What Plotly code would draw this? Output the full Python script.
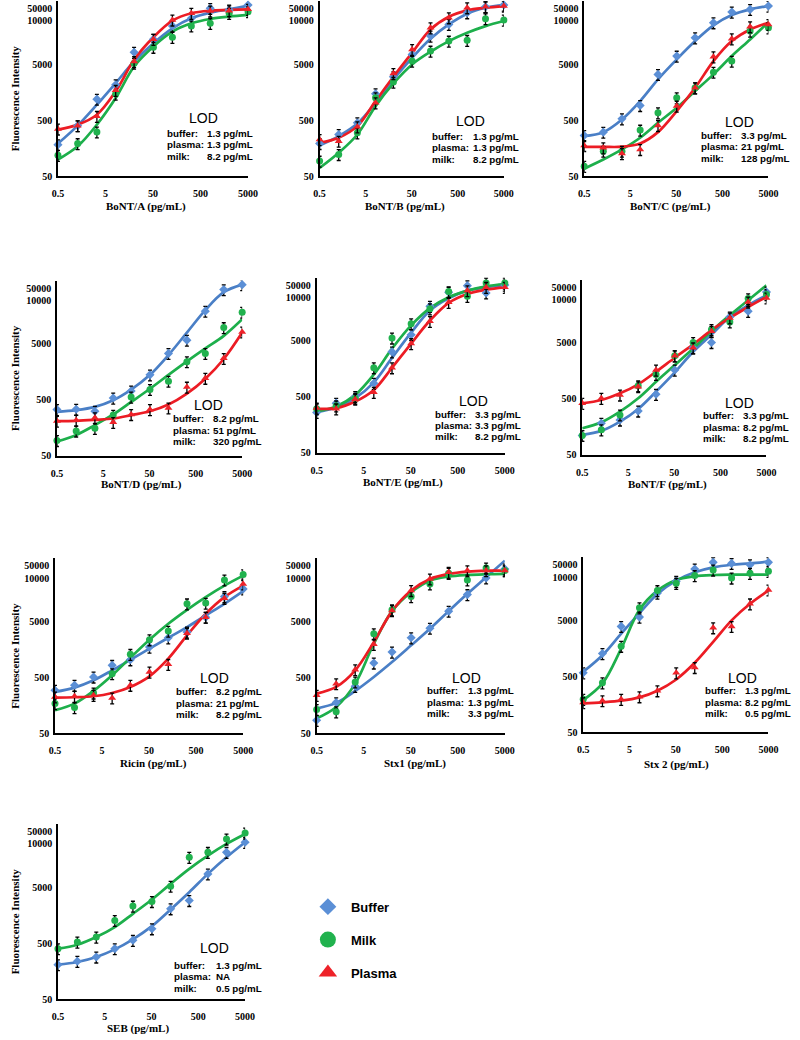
import math
import plotly.graph_objects as go

# 2.5-fold dilution series (pg/mL)
conc = [0.5, 1.3, 3.3, 8.2, 20, 51, 128, 320, 800, 2000, 5000]

x_ticks = [0.5, 5, 50, 500, 5000]
x_tick_text = ["0.5", "5", "50", "500", "5000"]
y_ticks = [50, 500, 5000, 30000, 50000]
y_tick_text = ["50", "500", "5000", "10000", "50000"]

# BoNT/A
a_buffer = [183, 400, 1190, 2150, 8200, 14000, 24300, 33200, 50000, 46800, 57400]
a_buffer_fit = [191, 400, 947, 2310, 5610, 11900, 22000, 33200, 41900, 48100, 55800]
a_milk = [118, 191, 309, 1470, 5240, 10100, 15200, 24300, 27000, 40800, 43700]
a_milk_fit = [99, 171, 417, 1245, 4570, 10400, 19200, 27000, 32300, 35600, 38100]
a_plasma = [349, 400, 587, 1710, 5610, 14000, 31000, 40800, 44900, 45500, 48100]
a_plasma_fit = [340, 417, 628, 1640, 6010, 15200, 30200, 40800, 45500, 46800, 48100]
a_lod = ["1.3 pg/mL", "1.3 pg/mL", "8.2 pg/mL"]

# BoNT/B
b_buffer = [192, 278, 450, 1490, 2990, 7510, 16000, 25800, 41800, 53500, 57300]
b_buffer_fit = [177, 260, 437, 1025, 2680, 6540, 14300, 25800, 40100, 51300, 58000]
b_milk = [93, 122, 298, 1260, 2400, 5700, 8610, 13000, 13400, 32700, 30900]
b_milk_fit = [70, 131, 278, 894, 2270, 4970, 8380, 13000, 18300, 24100, 29700]
b_plasma = [226, 211, 382, 1025, 3430, 9220, 22500, 34000, 51300, 53500, 55000]
b_plasma_fit = [197, 243, 392, 1100, 2990, 8040, 21000, 35400, 46000, 51300, 55000]
b_lod = ["1.3 pg/mL", "1.3 pg/mL", "8.2 pg/mL"]

# BoNT/C
c_buffer = [267, 306, 531, 918, 3300, 7010, 14900, 27700, 43000, 47900, 55000]
c_buffer_fit = [260, 306, 516, 1100, 2680, 6110, 13000, 24800, 37900, 47900, 55000]
c_milk = [75, 140, 140, 333, 679, 1260, 1900, 3620, 5700, 19600, 22500]
c_milk_fit = [68, 99, 150, 243, 450, 834, 1660, 3300, 7010, 13900, 28400]
c_plasma = [177, 161, 127, 150, 403, 894, 1900, 6820, 14300, 23500, 25800]
c_plasma_fit = [167, 167, 168, 192, 306, 727, 1900, 5700, 13000, 21000, 27700]
c_lod = ["3.3 pg/mL", "21 pg/mL", "128 pg/mL"]

# BoNT/D
d_buffer = [336, 340, 313, 540, 719, 1400, 3390, 5840, 19300, 46800, 57400]
d_buffer_fit = [305, 327, 374, 491, 759, 1400, 3170, 7980, 20100, 42000, 57400]
d_milk = [94, 139, 155, 267, 562, 770, 1080, 2410, 3390, 9800, 18500]
d_milk_fit = [90, 118, 177, 274, 459, 791, 1400, 2440, 4160, 6960, 13800]
d_plasma = [209, 217, 239, 198, 274, 336, 359, 847, 1220, 2760, 8200]
d_plasma_fit = [209, 211, 220, 232, 267, 313, 412, 645, 1190, 2690, 7980]
d_lod = ["8.2 pg/mL", "51 pg/mL", "320 pg/mL"]

# BoNT/E
e_buffer = [264, 386, 507, 875, 3190, 6470, 20900, 37100, 48700, 36100, 50000]
e_buffer_fit = [267, 323, 473, 910, 2490, 7030, 17500, 29000, 39700, 45500, 50000]
e_milk = [306, 346, 473, 1660, 5650, 10200, 18800, 38100, 31500, 54300, 54300]
e_milk_fit = [275, 337, 543, 1260, 3650, 9490, 19300, 30200, 39700, 47300, 52100]
e_plasma = [315, 306, 455, 605, 1660, 4490, 11200, 24600, 39700, 45500, 45500]
e_plasma_fit = [306, 315, 413, 666, 1660, 4490, 11600, 24000, 34600, 41300, 45500]
e_lod = ["3.3 pg/mL", "3.3 pg/mL", "8.2 pg/mL"]

# BoNT/F
f_buffer = [111, 183, 210, 304, 603, 1640, 4090, 5100, 14600, 18400, 40800]
f_buffer_fit = [114, 134, 196, 330, 673, 1490, 3480, 7080, 14600, 23600, 35600]
f_milk = [111, 140, 258, 861, 1370, 2950, 5100, 8690, 11900, 31000, 36600]
f_milk_fit = [149, 191, 296, 512, 1010, 2010, 3980, 8110, 15700, 29000, 53600]
f_plasma = [417, 512, 587, 826, 1640, 2950, 4090, 8110, 14000, 27000, 31900]
f_plasma_fit = [417, 478, 628, 910, 1530, 2720, 4700, 8460, 14000, 22000, 33200]
f_lod = ["3.3 pg/mL", "8.2 pg/mL", "8.2 pg/mL"]

# Ricin
g_buffer = [296, 364, 512, 826, 1040, 1750, 2570, 3250, 6010, 14000, 19200]
g_buffer_fit = [276, 330, 446, 673, 1040, 1640, 2570, 3980, 6430, 10400, 17500]
g_milk = [171, 145, 265, 587, 1300, 2370, 3380, 10400, 10700, 27800, 34600]
g_milk_fit = [130, 171, 288, 548, 1130, 2370, 4570, 8110, 13700, 22000, 33200]
g_plasma = [225, 231, 241, 216, 364, 628, 861, 3110, 6010, 13100, 23600]
g_plasma_fit = [219, 222, 231, 265, 340, 526, 1090, 2830, 6890, 13700, 22000]
g_lod = ["8.2 pg/mL", "21 pg/mL", "8.2 pg/mL"]

# Stx1
h_buffer = [86, 178, 349, 910, 1430, 2570, 3820, 7690, 15200, 30200, 43700]
h_buffer_fit = [140, 176, 288, 512, 947, 1880, 3720, 7690, 15700, 31000, 61500]
h_milk = [134, 122, 417, 3030, 8110, 14000, 23600, 36600, 27800, 45500, 40800]
h_milk_fit = [93, 149, 389, 2010, 7690, 16800, 27000, 31900, 34100, 35100, 35600]
h_plasma = [241, 389, 692, 1960, 7890, 18000, 29000, 38100, 40800, 40800, 40800]
h_plasma_fit = [258, 340, 673, 2150, 7690, 18000, 29000, 35600, 39200, 40800, 40800]
h_lod = ["1.3 pg/mL", "1.3 pg/mL", "3.3 pg/mL"]

# Stx 2
i_buffer = [583, 1290, 3940, 5780, 15500, 25200, 41800, 55000, 52700, 49900, 55000]
i_buffer_fit = [608, 1200, 2920, 6800, 15000, 25900, 36500, 44800, 49900, 52700, 56500]
i_milk = [196, 387, 1740, 8470, 17200, 23200, 31900, 40200, 28900, 35000, 38000]
i_milk_fit = [190, 377, 1580, 7800, 17200, 26700, 31000, 32700, 33200, 33200, 33200]
i_plasma = [171, 185, 196, 218, 279, 583, 726, 3730, 3940, 9980, 17700]
i_plasma_fit = [166, 173, 185, 212, 279, 443, 879, 2080, 5050, 9980, 17200]
i_lod = ["1.3 pg/mL", "8.2 pg/mL", "0.5 pg/mL"]

# SEB (no plasma)
j_buffer = [207, 238, 284, 400, 564, 910, 2070, 2910, 8690, 21100, 31900]
j_buffer_fit = [207, 231, 284, 389, 587, 1010, 2010, 4090, 8690, 17200, 31900]
j_milk = [400, 526, 646, 1280, 2310, 2790, 5240, 17200, 21100, 36600, 46800]
j_milk_fit = [400, 471, 646, 973, 1680, 3030, 5770, 10700, 18400, 29800, 44900]
j_lod = ["1.3 pg/mL", "NA", "0.5 pg/mL"]

panels = [
    ("BoNT/A (pg/mL)", a_buffer, a_buffer_fit, a_milk, a_milk_fit, a_plasma, a_plasma_fit, a_lod),
    ("BoNT/B (pg/mL)", b_buffer, b_buffer_fit, b_milk, b_milk_fit, b_plasma, b_plasma_fit, b_lod),
    ("BoNT/C (pg/mL)", c_buffer, c_buffer_fit, c_milk, c_milk_fit, c_plasma, c_plasma_fit, c_lod),
    ("BoNT/D (pg/mL)", d_buffer, d_buffer_fit, d_milk, d_milk_fit, d_plasma, d_plasma_fit, d_lod),
    ("BoNT/E (pg/mL)", e_buffer, e_buffer_fit, e_milk, e_milk_fit, e_plasma, e_plasma_fit, e_lod),
    ("BoNT/F (pg/mL)", f_buffer, f_buffer_fit, f_milk, f_milk_fit, f_plasma, f_plasma_fit, f_lod),
    ("Ricin (pg/mL)", g_buffer, g_buffer_fit, g_milk, g_milk_fit, g_plasma, g_plasma_fit, g_lod),
    ("Stx1 (pg/mL)", h_buffer, h_buffer_fit, h_milk, h_milk_fit, h_plasma, h_plasma_fit, h_lod),
    ("Stx 2 (pg/mL)", i_buffer, i_buffer_fit, i_milk, i_milk_fit, i_plasma, i_plasma_fit, i_lod),
    ("SEB (pg/mL)", j_buffer, j_buffer_fit, j_milk, j_milk_fit, None, None, j_lod),
]

# pixel geometry of each panel: plot left/right, y of the x axis, x-title centre,
# LOD block (LOD centre, label column, value column, first line y)
boxes = [
    dict(x0=53, x1=247, yb=177, tx=143, ty=208, lx=202, ly=119, cl=162, cv=203, l1=134, col=0),
    dict(x0=320, x1=508, yb=177, tx=407, ty=208, lx=474, ly=122, cl=433, cv=474, l1=137, col=1),
    dict(x0=590, x1=778, yb=177, tx=678, ty=208, lx=748, ly=123, cl=707, cv=748, l1=136, col=2),
    dict(x0=52, x1=241, yb=458, tx=138, ty=487, lx=207, ly=407, cl=168, cv=209, l1=421, col=0),
    dict(x0=317, x1=509, yb=455, tx=405, ty=485, lx=477, ly=403, cl=436, cv=477, l1=416, col=1),
    dict(x0=588, x1=776, yb=457, tx=675, ty=487, lx=748, ly=405, cl=709, cv=750, l1=418, col=2),
    dict(x0=50, x1=242, yb=737, tx=150, ty=767, lx=213, ly=681, cl=171, cv=212, l1=695, col=0),
    dict(x0=317, x1=509, yb=737, tx=417, ty=767, lx=470, ly=681, cl=428, cv=469, l1=694, col=1),
    dict(x0=589, x1=778, yb=736, tx=684, ty=768, lx=752, ly=681, cl=711, cv=752, l1=694, col=2),
    dict(x0=53, x1=244, yb=1004, tx=135, ty=1033, lx=213, ly=953, cl=169, cv=212, l1=970, col=0),
]

W, H = 800, 1040
PPD = 56.2  # pixels per decade on the y axis
y_lo, y_hi = math.log10(50), math.log10(68000)
plot_h = PPD * (y_hi - y_lo)

BLUE_L, BLUE_M = "#4A7FC6", "#5B8FD6"
GREEN_L, GREEN_M = "#1DAF4B", "#21B24E"
RED_L, RED_M = "#EC1C24", "#EE2229"

serif = "Liberation Serif"
sans = "Liberation Sans"

fig = go.Figure()
annotations = []
layout = {}

for i, (title, buf, buf_fit, milk, milk_fit, pla, pla_fit, lod) in enumerate(panels):
    b = boxes[i]
    n = i + 1
    xs = "x" if n == 1 else f"x{n}"
    ys = "y" if n == 1 else f"y{n}"

    series = [
        (buf, buf_fit, BLUE_L, BLUE_M, "diamond", 7),
        (milk, milk_fit, GREEN_L, GREEN_M, "circle", 7),
        (pla, pla_fit, RED_L, RED_M, "triangle-up", 7),
    ]
    # fitted curves
    for pts, fit, lc, mc, sym, sz in series:
        if fit is None:
            continue
        fig.add_trace(go.Scatter(x=conc, y=fit, mode="lines", xaxis=xs, yaxis=ys,
                                 line=dict(color=lc, width=2.7, shape="spline", smoothing=1.0),
                                 showlegend=False, hoverinfo="skip", cliponaxis=False))
    # measured points
    for pts, fit, lc, mc, sym, sz in series:
        if pts is None:
            continue
        fig.add_trace(go.Scatter(x=conc, y=pts, mode="markers", xaxis=xs, yaxis=ys,
                                 marker=dict(symbol=sym, size=sz, color=mc, line=dict(width=0)),
                                 error_y=dict(type="percent", value=22, color="black",
                                              thickness=1.3, width=2),
                                 showlegend=False, cliponaxis=False))

    top = b["yb"] - plot_h
    layout["xaxis" if n == 1 else f"xaxis{n}"] = dict(
        type="log", range=[math.log10(0.5), math.log10(5000)],
        domain=[b["x0"] / W, b["x1"] / W], anchor=ys,
        showline=True, linecolor="black", linewidth=1.6, showgrid=False, zeroline=False,
        ticks="", tickvals=x_ticks, ticktext=x_tick_text, ticklabelstandoff=7,
        tickfont=dict(family=serif, size=10, color="black", weight="bold"),
    )
    layout["yaxis" if n == 1 else f"yaxis{n}"] = dict(
        type="log", range=[y_lo, y_hi],
        domain=[1 - b["yb"] / H, min(1.0, 1 - top / H)], anchor=xs,
        showline=True, linecolor="black", linewidth=1.6, showgrid=False, zeroline=False,
        ticks="", tickvals=y_ticks, ticktext=y_tick_text, ticklabelstandoff=2,
        tickfont=dict(family=serif, size=10, color="black", weight="bold"),
    )

    annotations.append(dict(x=b["tx"] / W, y=1 - b["ty"] / H, xref="paper", yref="paper",
                            text=title, showarrow=False, xanchor="center", yanchor="middle",
                            font=dict(family=serif, size=11, color="black", weight="bold")))
    if b["col"] == 0:
        annotations.append(dict(x=9 / W, y=1 - (b["yb"] - 78) / H, xref="paper", yref="paper",
                                text="Fluorescence Intensity", textangle=-90, showarrow=False,
                                xanchor="center", yanchor="middle",
                                font=dict(family=serif, size=11, color="black", weight="bold")))

    annotations.append(dict(x=b["lx"] / W, y=1 - b["ly"] / H, xref="paper", yref="paper",
                            text="LOD", showarrow=False, xanchor="center", yanchor="middle",
                            font=dict(family=sans, size=14, color="black")))
    for k, lab in enumerate(["buffer:", "plasma:", "milk:"]):
        yy = 1 - (b["l1"] + 11.5 * k) / H
        annotations.append(dict(x=b["cl"] / W, y=yy, xref="paper", yref="paper", text=lab,
                                showarrow=False, xanchor="left", yanchor="middle",
                                font=dict(family=sans, size=9.8, color="black", weight="bold")))
        annotations.append(dict(x=b["cv"] / W, y=yy, xref="paper", yref="paper", text=lod[k],
                                showarrow=False, xanchor="left", yanchor="middle",
                                font=dict(family=sans, size=9.8, color="black", weight="bold")))

# legend entries
for name, sym, sz, col in [("Buffer", "diamond", 13, BLUE_M), ("Milk", "circle", 16, GREEN_M),
                           ("Plasma", "triangle-up", 16, RED_M)]:
    fig.add_trace(go.Scatter(x=[None], y=[None], mode="markers", name=name, legendgroup=name,
                             marker=dict(symbol=sym, size=sz, color=col)))

fig.update_layout(
    width=W, height=H, margin=dict(l=0, r=0, t=0, b=0),
    paper_bgcolor="white", plot_bgcolor="white",
    annotations=annotations,
    showlegend=True,
    legend=dict(x=305 / W, y=1 - 896 / H, xanchor="left", yanchor="top",
                font=dict(family=sans, size=13, color="black", weight="bold"),
                tracegroupgap=13, itemwidth=36, bgcolor="rgba(0,0,0,0)", itemsizing="trace"),
    **layout,
)

fig.write_html("out.html", config={"displayModeBar": False},
               post_script="document.body.style.margin='0';")
